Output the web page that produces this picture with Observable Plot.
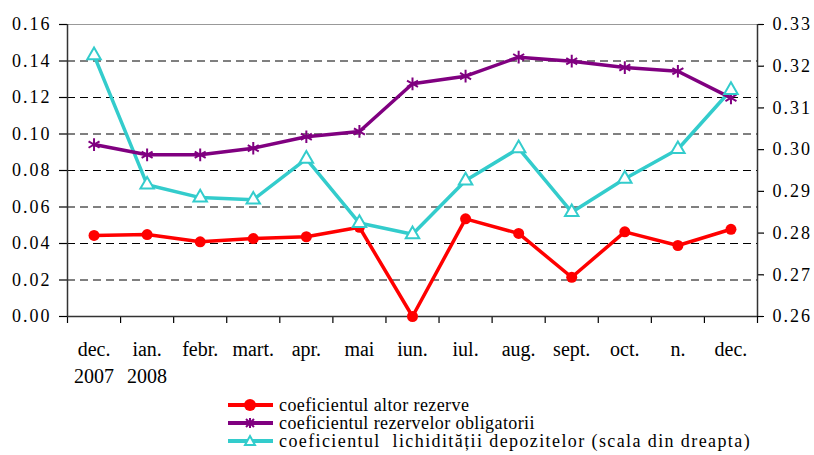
<!DOCTYPE html>
<html>
<head>
<meta charset="utf-8">
<script src="https://cdn.jsdelivr.net/npm/d3@7"></script>
<script src="https://cdn.jsdelivr.net/npm/@observablehq/plot@0.6"></script>
<style>
  body { margin: 0; background: #fff; }
  #wrap { position: relative; width: 814px; height: 455px; }
  #chart [aria-label="y-axis tick label"] text { letter-spacing: 2px; }
  #legend { position: absolute; left: 228px; top: 396px; font-family: "Liberation Serif", "Times New Roman", serif; font-size: 18px; line-height: 18px; color: #000; }
  #legend .row { display: flex; align-items: center; height: 18px; white-space: pre; }
  #legend svg { margin-right: 6px; flex: none; }
</style>
</head>
<body>
<div id="wrap"><div id="chart"></div><div id="legend"></div></div>
<script>
const months = ["dec.\n2007", "ian.\n2008", "febr.", "mart.", "apr.", "mai", "iun.", "iul.", "aug.", "sept.", "oct.", "n.", "dec."];
const altorRezerve = [0.0444, 0.0449, 0.0409, 0.0427, 0.0437, 0.0489, 0.0000, 0.0535, 0.0455, 0.0215, 0.0464, 0.0389, 0.0478];
const rezerveObligatorii = [0.0942, 0.0886, 0.0886, 0.0922, 0.0985, 0.1014, 0.1275, 0.1317, 0.1421, 0.1399, 0.1364, 0.1344, 0.1198];
const lichiditateDepozite = [0.3226, 0.2916, 0.2885, 0.2880, 0.2978, 0.2824, 0.2797, 0.2926, 0.3003, 0.2850, 0.2930, 0.3001, 0.3143];
const leftTicks = [0, 0.02, 0.04, 0.06, 0.08, 0.10, 0.12, 0.14, 0.16];
const rightTicks = [0.26, 0.27, 0.28, 0.29, 0.30, 0.31, 0.32, 0.33];
const seriesNames = ["coeficientul altor rezerve", "coeficientul rezervelor obligatorii", "coeficientul  lichidității depozitelor (scala din dreapta)"];

const colors = {red: "#ff0000", purple: "#800080", cyan: "#33cccc"};
const rMin = 0.26, rMax = 0.33, lMax = 0.16;
const toLeft = v => (v - rMin) / (rMax - rMin) * lMax;
const toRight = v => rMin + v / lMax * (rMax - rMin);
const serif = "Liberation Serif";

const red = altorRezerve.map((v, i) => ({i: i + 0.5, v}));
const purple = rezerveObligatorii.map((v, i) => ({i: i + 0.5, v}));
const cyan = lichiditateDepozite.map((v, i) => ({i: i + 0.5, v: toLeft(v)}));

const chart = Plot.plot({
  width: 814,
  height: 455,
  marginLeft: 67,
  marginRight: 57,
  marginTop: 24,
  marginBottom: 139,
  style: {fontFamily: serif, color: "#000", background: "transparent"},
  x: {type: "linear", domain: [0, months.length]},
  y: {type: "linear", domain: [0, lMax]},
  marks: [
    Plot.ruleY(leftTicks.slice(1, -1), {stroke: "#000", strokeWidth: 1, strokeDasharray: "8,5"}),
    Plot.ruleY([lMax], {stroke: "#999", strokeWidth: 1.2}),
    Plot.axisX(d3.range(months.length + 1), {tickSize: 7, tickFormat: () => "", label: null, stroke: "#000", strokeWidth: 1.2}),
    Plot.axisX(d3.range(months.length).map(i => i + 0.5), {tickSize: 0, tickPadding: 20, tickFormat: d => months[Math.floor(d)], fontSize: 20, fontFamily: serif, lineHeight: 1.35, label: null}),
    Plot.axisY(leftTicks, {anchor: "left", tickSize: 8, tickPadding: 8, tickFormat: d => d.toFixed(2), fontSize: 18, fontFamily: serif, label: null, strokeWidth: 1.2}),
    Plot.axisY(rightTicks.map(toLeft), {anchor: "right", tickSize: 6, tickPadding: 9, tickFormat: d => toRight(d).toFixed(2), fontSize: 18, fontFamily: serif, label: null, strokeWidth: 1.2}),
    Plot.ruleX([0, months.length], {stroke: "#333", strokeWidth: 1.5}),
    Plot.ruleY([0], {stroke: "#333", strokeWidth: 1.5}),
    Plot.line(cyan, {x: "i", y: "v", stroke: colors.cyan, strokeWidth: 3.5}),
    Plot.line(purple, {x: "i", y: "v", stroke: colors.purple, strokeWidth: 3.5}),
    Plot.line(red, {x: "i", y: "v", stroke: colors.red, strokeWidth: 3.5}),
    Plot.dot(red, {x: "i", y: "v", fill: colors.red, r: 5.5}),
    Plot.dot(purple, {x: "i", y: "v", symbol: "asterisk", stroke: colors.purple, strokeWidth: 2, r: 6}),
    Plot.dot(cyan, {x: "i", y: "v", symbol: "triangle", stroke: colors.cyan, fill: "#fff", strokeWidth: 2, r: 5})
  ]
});
document.getElementById("chart").appendChild(chart);

const legendDefs = [
  {name: seriesNames[0], color: colors.red, marker: "circle", spacing: 0.4},
  {name: seriesNames[1], color: colors.purple, marker: "asterisk", spacing: 0.4},
  {name: seriesNames[2], color: colors.cyan, marker: "triangle", spacing: 1.4}
];
const legend = document.getElementById("legend");
for (const d of legendDefs) {
  const row = document.createElement("div");
  row.className = "row";
  let m = "";
  if (d.marker === "circle") m = `<circle cx="22" cy="9" r="6" fill="${d.color}"/>`;
  if (d.marker === "asterisk") m = `<path d="M22,4V14M18,5L26,13M26,5L18,13" stroke="${d.color}" stroke-width="2"/>`;
  if (d.marker === "triangle") m = `<path d="M22,4L27,13L17,13Z" fill="#fff" stroke="${d.color}" stroke-width="2"/>`;
  row.innerHTML = `<svg width="45" height="18"><line x1="0" x2="45" y1="9" y2="9" stroke="${d.color}" stroke-width="4"/>${m}</svg><span style="letter-spacing:${d.spacing}px">${d.name}</span>`;
  legend.appendChild(row);
}
</script>
</body>
</html>
